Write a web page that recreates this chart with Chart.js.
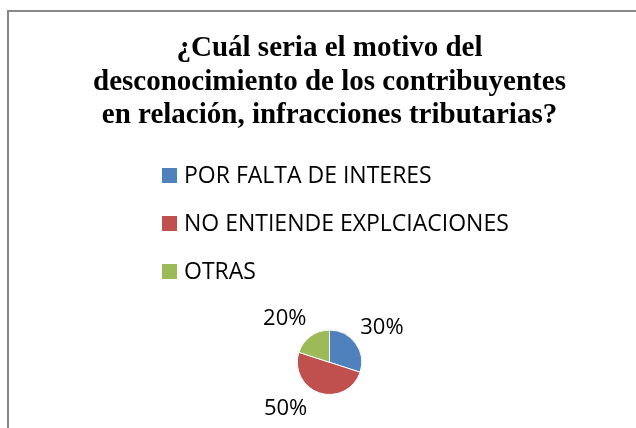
<!DOCTYPE html>
<html>
<head>
<meta charset="utf-8">
<script src="https://cdn.jsdelivr.net/npm/chart.js@4.4.1/dist/chart.umd.min.js"></script>
<style>
  html, body { margin: 0; padding: 0; background: #fff; overflow: hidden; width: 636px; height: 428px; }
  #frame { position: absolute; left: 7px; top: 10px; width: 640px; height: 440px; border: 2px solid #878787; box-sizing: border-box; }
  #chart { position: absolute; left: 0; top: 0; }
</style>
</head>
<body>
<div id="frame"><canvas id="chart" width="628" height="430"></canvas></div>
<script>
// data
var titleLines = ['¿Cuál seria el motivo del', 'desconocimiento de los contribuyentes', 'en relación, infracciones tributarias?'];
var categories = ['POR FALTA DE INTERES', 'NO ENTIENDE EXPLCIACIONES', 'OTRAS'];
var values = [30, 50, 20];
var colors = ['#4F81BD', '#C0504D', '#9BBB59'];

// Excel "best fit" puts the labels a bit off the mid angle
var labelNudge = [2, 26, -9];
var labelGap = 31;

var legendList = {
    id: 'legendList',
    afterDraw: function (chart, args, opts) {
        var ctx = chart.ctx;
        ctx.save();
        ctx.font = opts.font;
        ctx.textBaseline = 'middle';
        ctx.textAlign = 'left';
        chart.data.labels.forEach(function (lab, i) {
            var y = opts.top + i * opts.step;
            ctx.fillStyle = chart.data.datasets[0].backgroundColor[i];
            ctx.fillRect(opts.left, y - opts.box / 2, opts.box, opts.box);
            ctx.fillStyle = '#000';
            ctx.fillText(lab, opts.left + opts.box + 7, y + 1);
        });
        ctx.restore();
    }
};

var pctLabels = {
    id: 'pctLabels',
    afterDatasetsDraw: function (chart) {
        var ctx = chart.ctx;
        var meta = chart.getDatasetMeta(0);
        var total = values.reduce(function (a, b) { return a + b; }, 0);
        ctx.save();
        ctx.font = '22px "Open Sans"';
        ctx.fillStyle = '#000';
        ctx.textAlign = 'center';
        ctx.textBaseline = 'middle';
        meta.data.forEach(function (arc, i) {
            var a = (arc.startAngle + arc.endAngle) / 2 + labelNudge[i] * Math.PI / 180;
            var d = arc.outerRadius + labelGap;
            var txt = Math.round(values[i] / total * 100) + '%';
            ctx.fillText(txt, arc.x + Math.cos(a) * d, arc.y + Math.sin(a) * d + 1);
        });
        ctx.restore();
    }
};

new Chart(document.getElementById('chart'), {
    type: 'pie',
    data: {
        labels: categories,
        datasets: [{
            data: values,
            backgroundColor: colors,
            borderColor: '#ffffff',
            borderWidth: 1
        }]
    },
    options: {
        responsive: false,
        animation: false,
        layout: { padding: { left: 13, right: 0, top: 0, bottom: 47 } },
        plugins: {
            legend: { display: false },
            tooltip: { enabled: false },
            title: {
                display: true,
                text: titleLines,
                color: '#000',
                font: { family: '"Liberation Serif"', size: 29, weight: 'bold', lineHeight: 1.15 },
                padding: { top: 20, bottom: 197.5 }
            },
            legendList: { font: '23px "Open Sans"', left: 153, top: 163.5, step: 48, box: 15 }
        }
    },
    plugins: [legendList, pctLabels]
});
</script>
</body>
</html>
